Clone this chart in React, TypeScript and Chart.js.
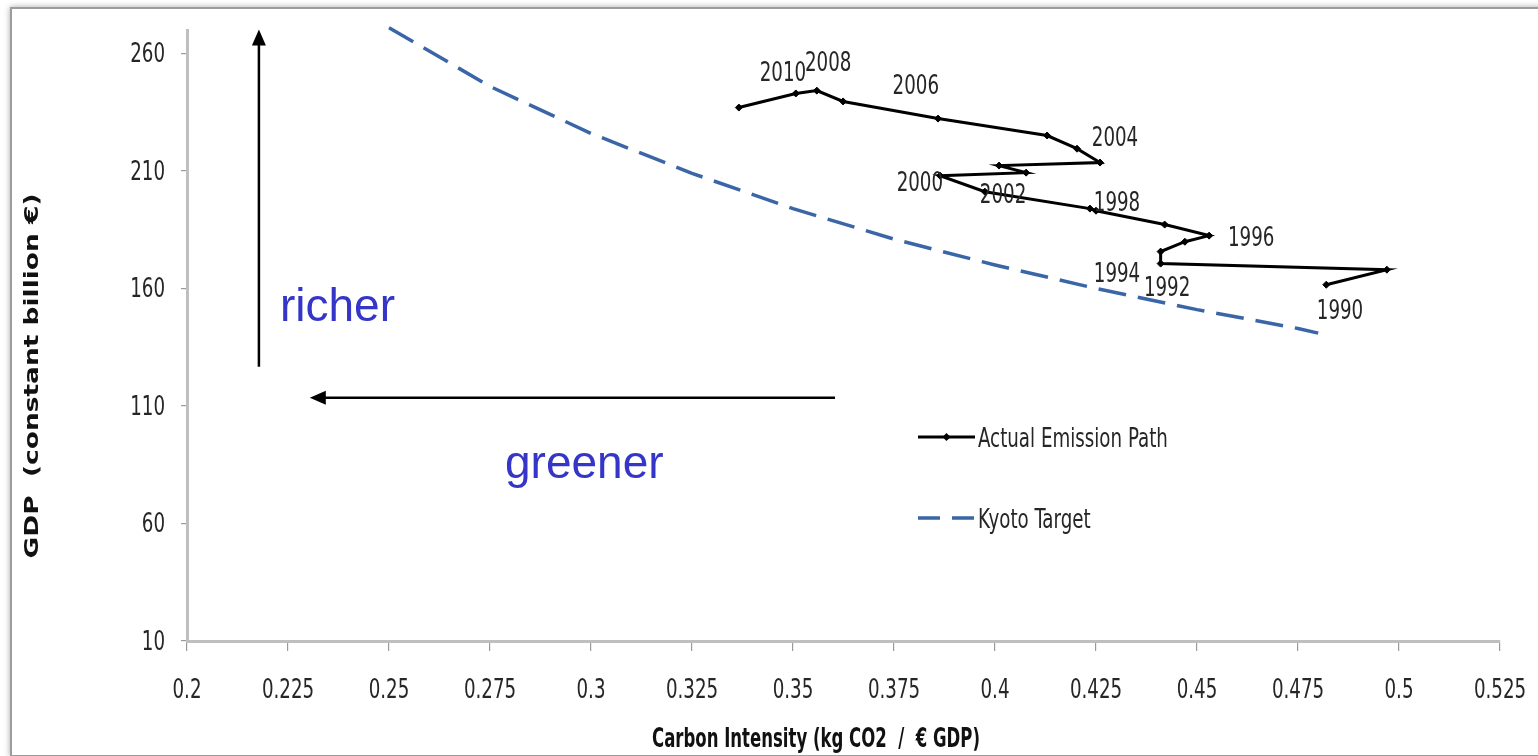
import React, { useEffect, useRef } from "react";
import { Chart, registerables } from "chart.js";

Chart.register(...registerables);

// ---------- data ----------
const years = [1990, 1991, 1992, 1993, 1994, 1995, 1996, 1997, 1998, 1999, 2000, 2001, 2002, 2003, 2004, 2005, 2006, 2007, 2008, 2009, 2010];
const carbonIntensity = [0.482, 0.497, 0.441, 0.441, 0.447, 0.453, 0.442, 0.425, 0.4235, 0.3975, 0.3864, 0.4077, 0.401, 0.426, 0.4203, 0.4129, 0.3859, 0.3624, 0.3559, 0.3507, 0.3366];
const gdp = [161.6, 168.0, 170.6, 175.7, 179.9, 182.5, 187.2, 193.1, 194.0, 201.2, 208.0, 209.3, 212.3, 213.6, 219.5, 225.1, 232.3, 239.6, 244.2, 243.0, 237.0];

const kyotoIntensity = [0.25, 0.275, 0.3, 0.325, 0.35, 0.375, 0.4, 0.425, 0.45, 0.475, 0.48];
const kyotoGdp = [271, 246, 226, 209, 194, 181, 170, 160, 151, 143, 141];

const yearLabelText = ["1990", "1992", "1994", "1996", "1998", "2000", "2002", "2004", "2006", "2008", "2010"];
const yearLabelX = [0.4854, 0.4426, 0.4302, 0.4634, 0.4302, 0.3814, 0.402, 0.4297, 0.3804, 0.3587, 0.3475];
const yearLabelY = [150.1, 159.5, 165.5, 180.8, 195.7, 204.2, 199.1, 223.4, 245.5, 255.3, 251.1];

const xTickLabels = ["0.2", "0.225", "0.25", "0.275", "0.3", "0.325", "0.35", "0.375", "0.4", "0.425", "0.45", "0.475", "0.5", "0.525"];
const yTickLabels = ["10", "60", "110", "160", "210", "260"];

const seriesNames = ["Actual Emission Path", "Kyoto Target"];
const xTitle = "Carbon Intensity (kg CO2  /  \u20AC GDP)";
const yTitle = "GDP  (constant billion \u20AC)";

const FONT = '"Liberation Sans Narrow", "DejaVu Sans Condensed", "Roboto Condensed", "Liberation Sans", sans-serif';
const FONT_SIZE = 26;
const NARROW = 0.78;
const KYOTO_COLOR = "#3A66A8";
const AXIS_COLOR = "#BFBFBF";
const TEXT_COLOR = "#262626";
const ANNOT_COLOR = "#3535C8";

function arrowHead(ctx: CanvasRenderingContext2D, tx: number, ty: number, dx: number, dy: number, len: number, half: number) {
  const bx = tx - dx * len;
  const by = ty - dy * len;
  ctx.beginPath();
  ctx.moveTo(tx, ty);
  ctx.lineTo(bx - dy * half, by + dx * half);
  ctx.lineTo(bx + dy * half, by - dx * half);
  ctx.closePath();
  ctx.fill();
}

function text(ctx: CanvasRenderingContext2D, s: string, x: number, y: number, align: CanvasTextAlign, sx: number) {
  ctx.save();
  ctx.translate(x, y);
  ctx.scale(sx, 1);
  ctx.textAlign = align;
  ctx.fillText(s, 0, 0);
  ctx.restore();
}

const overlayPlugin = {
  id: "overlay",
  afterDraw(chart: any) {
    const ctx: CanvasRenderingContext2D = chart.ctx;
    const xs = chart.scales.x;
    const ys = chart.scales.y;
    const X = (v: number) => xs.getPixelForValue(v);
    const Y = (v: number) => ys.getPixelForValue(v);
    ctx.save();

    // tick labels
    ctx.fillStyle = TEXT_COLOR;
    ctx.font = `${FONT_SIZE}px ${FONT}`;
    ctx.textBaseline = "middle";
    xs.ticks.forEach((_t: any, i: number) => {
      text(ctx, xTickLabels[i], xs.getPixelForTick(i), 691, "center", NARROW);
    });
    ys.ticks.forEach((_t: any, i: number) => {
      text(ctx, yTickLabels[i], 165, ys.getPixelForTick(i) + 2, "right", NARROW);
    });

    // year labels
    yearLabelText.forEach((t, i) => {
      text(ctx, t, X(yearLabelX[i]), Y(yearLabelY[i]), "center", NARROW);
    });

    // arrows
    ctx.strokeStyle = "#000";
    ctx.fillStyle = "#000";
    ctx.lineWidth = 2.5;
    const ax = X(0.2178);
    const ay0 = Y(126.7);
    const ay1 = Y(270.2);
    ctx.beginPath();
    ctx.moveTo(ax, ay0);
    ctx.lineTo(ax, ay1 + 12);
    ctx.stroke();
    arrowHead(ctx, ax, ay1, 0, -1, 16, 7);

    const hy = Y(113.5);
    const hx0 = X(0.3604);
    const hx1 = X(0.2304);
    ctx.beginPath();
    ctx.moveTo(hx0, hy);
    ctx.lineTo(hx1 + 12, hy);
    ctx.stroke();
    arrowHead(ctx, hx1, hy, -1, 0, 16, 7);

    // richer / greener
    ctx.fillStyle = ANNOT_COLOR;
    ctx.font = '46px "Liberation Sans", Arial, sans-serif';
    ctx.textAlign = "left";
    ctx.textBaseline = "alphabetic";
    ctx.fillText("richer", 280, 321);
    ctx.fillText("greener", 505, 478);

    // legend
    const lx0 = 918;
    const lx1 = 975;
    const ly1 = 437;
    const ly2 = 518;
    ctx.strokeStyle = "#000";
    ctx.lineWidth = 3;
    ctx.setLineDash([]);
    ctx.beginPath();
    ctx.moveTo(lx0, ly1);
    ctx.lineTo(lx1, ly1);
    ctx.stroke();
    ctx.fillStyle = "#000";
    ctx.beginPath();
    const mx = (lx0 + lx1) / 2;
    ctx.moveTo(mx, ly1 - 4);
    ctx.lineTo(mx + 4, ly1);
    ctx.lineTo(mx, ly1 + 4);
    ctx.lineTo(mx - 4, ly1);
    ctx.closePath();
    ctx.fill();

    ctx.strokeStyle = KYOTO_COLOR;
    ctx.lineWidth = 3.5;
    ctx.setLineDash([22, 12]);
    ctx.beginPath();
    ctx.moveTo(lx0, ly2);
    ctx.lineTo(lx1, ly2);
    ctx.stroke();
    ctx.setLineDash([]);

    ctx.fillStyle = TEXT_COLOR;
    ctx.font = `${FONT_SIZE}px ${FONT}`;
    ctx.textBaseline = "middle";
    text(ctx, seriesNames[0], 978, ly1 + 3, "left", NARROW);
    text(ctx, seriesNames[1], 978, ly2 + 3, "left", NARROW);

    // axis titles
    ctx.fillStyle = "#111";
    ctx.font = `bold 27px ${FONT}`;
    ctx.textBaseline = "middle";
    const xw = ctx.measureText(xTitle).width;
    text(ctx, xTitle, 816, 740, "center", 328 / xw);

    ctx.save();
    ctx.translate(33, 376);
    ctx.rotate(-Math.PI / 2);
    ctx.font = 'bold 19px "DejaVu Sans", Verdana, sans-serif';
    const yw = ctx.measureText(yTitle).width;
    text(ctx, yTitle, 0, 0, "center", 365 / yw);
    ctx.restore();

    ctx.restore();
  },
};

export default function App() {
  const canvasRef = useRef<HTMLCanvasElement | null>(null);

  useEffect(() => {
    const canvas = canvasRef.current;
    if (!canvas) return;
    const actual = years.map((_, i) => ({ x: carbonIntensity[i], y: gdp[i] }));
    const kyoto = kyotoIntensity.map((v, i) => ({ x: v, y: kyotoGdp[i] }));
    const xTickValues = xTickLabels.map((s) => parseFloat(s));
    const yTickValues = yTickLabels.map((s) => parseFloat(s));

    const chart = new Chart(canvas, {
      type: "scatter",
      data: {
        datasets: [
          {
            label: seriesNames[1],
            data: kyoto,
            showLine: true,
            borderColor: KYOTO_COLOR,
            borderWidth: 3.5,
            borderDash: [28, 12],
            pointRadius: 0,
            tension: 0,
            clip: false,
          } as any,
          {
            label: seriesNames[0],
            data: actual,
            showLine: true,
            borderColor: "#000",
            backgroundColor: "#000",
            borderWidth: 3,
            pointStyle: "rectRot",
            pointRadius: 3.5,
            pointBorderWidth: 1,
            tension: 0,
          },
        ],
      },
      options: {
        animation: false,
        responsive: false,
        devicePixelRatio: 1,
        events: [],
        layout: { padding: { top: 30, right: 38, left: 0, bottom: 0 } },
        plugins: { legend: { display: false }, tooltip: { enabled: false }, title: { display: false } },
        scales: {
          x: {
            type: "linear",
            min: 0.2,
            max: 0.525,
            afterBuildTicks: (s: any) => {
              s.ticks = xTickValues.map((v) => ({ value: v }));
            },
            afterFit: (s: any) => {
              s.height = 115;
              s.paddingLeft = 0;
              s.paddingRight = 0;
            },
            ticks: { display: false },
            grid: { drawOnChartArea: false, drawTicks: true, tickLength: 10, color: "#9a9a9a", lineWidth: 1.2 },
            border: { display: true, color: AXIS_COLOR, width: 3 },
          },
          y: {
            type: "linear",
            min: 10,
            max: 270,
            afterBuildTicks: (s: any) => {
              s.ticks = yTickValues.map((v) => ({ value: v }));
            },
            afterFit: (s: any) => {
              s.width = 187;
              s.paddingTop = 0;
              s.paddingBottom = 0;
            },
            ticks: { display: false },
            grid: { drawOnChartArea: false, drawTicks: true, tickLength: 6, color: "#9a9a9a", lineWidth: 1.2 },
            border: { display: true, color: AXIS_COLOR, width: 3 },
          },
        },
      },
      plugins: [overlayPlugin],
    } as any);
    return () => chart.destroy();
  }, []);

  return (
    <div style={{ position: "fixed", left: 0, top: 0, width: 1538, height: 756, overflow: "hidden", background: "#fff" }}>
      <div
        style={{
          position: "absolute",
          left: 10,
          top: 7,
          width: 1560,
          height: 746,
          border: "2px solid #9c9c9c",
          boxShadow: "0 0 6px rgba(0,0,0,0.35)",
          background: "#fff",
        }}
      />
      <canvas ref={canvasRef} width={1538} height={756} style={{ position: "absolute", left: 0, top: 0, width: 1538, height: 756 }} />
    </div>
  );
}
